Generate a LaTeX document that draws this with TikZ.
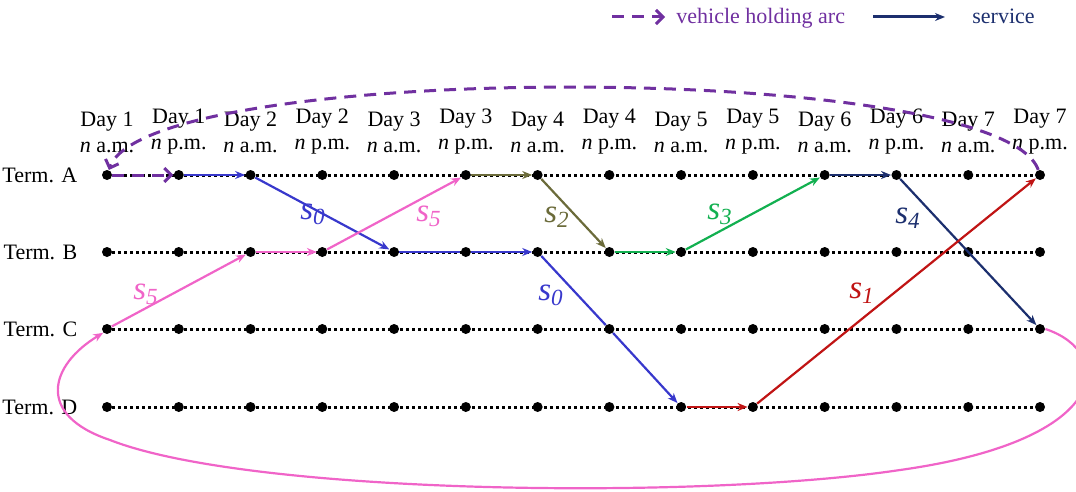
\documentclass[tikz,border=0pt]{standalone}
\usepackage{fontspec}
\setmainfont{Liberation Serif}
\usetikzlibrary{positioning,arrows.meta}
\definecolor{holdcol}{HTML}{7030A0}
\definecolor{blue0}{HTML}{3838CC}
\definecolor{pink5}{HTML}{F064C8}
\definecolor{olive2}{HTML}{6B6B3A}
\definecolor{green3}{HTML}{12B050}
\definecolor{navy4}{HTML}{1C2F6E}
\definecolor{red1}{HTML}{C01414}

\begin{document}
\begin{tikzpicture}[x=0.5pt,y=-0.5pt,>={Stealth[length=5pt,width=4pt]},
		dot/.style={circle,fill=black,inner sep=0pt,minimum size=5pt},
		gridline/.style={line width=1.5pt,dash pattern=on 1.5pt off 1.5pt},
		svc/.style={line width=1.1pt,->},
		hold/.style={holdcol,line width=1.5pt,dash pattern=on 6pt off 4pt,-{Straight Barb[length=3.5pt,width=7pt]}},
		daylabel/.style={align=center,font=\fontsize{11}{13}\selectfont,inner sep=0pt},
		termlabel/.style={font=\fontsize{11}{13}\selectfont,inner sep=0pt},
		svclabel/.style={font=\fontsize{16.5}{18}\selectfont\itshape,inner sep=0pt}]
		\useasboundingbox (0,0) rectangle (1076,492);
		\clip (0,0) rectangle (1076,492);
		\foreach \r/\y in {A/175,B/252,C/329,D/407}{
			\foreach \i in {0,...,13}
				\node[dot] (\r\i) at ({107+71.77*\i},\y) {};
			\draw[gridline] (\r0) -- (\r13);
			\node[termlabel,left=12pt of \r0] (term\r) {Term. \r};
		}
		\foreach \i in {0,...,13}{
			\pgfmathtruncatemacro{\daynum}{\i/2+1}
			\node[daylabel] (day\i) at ({107+71.77*\i},132) {Day \daynum\\\textit{n} \ifodd\i\relax p.m.\else a.m.\fi};
		}
		% legend
		\coordinate (lh0) at (612,17);
		\coordinate (lh1) at (665,17);
		\draw[hold] (lh0) -- (lh1);
		\node[termlabel,text=holdcol,anchor=base west] (lhold) at (676,24) {vehicle holding arc};
		\coordinate (ls0) at (873,17);
		\coordinate (ls1) at (945,17);
		\draw[svc,navy4,line width=1.5pt] (ls0) -- (ls1);
		\node[termlabel,text=navy4,anchor=base west] (lsvc) at (972,24) {service};
		% holding arcs
		\draw[hold] (A0) -- (A1);
		\draw[hold] (A13) .. controls (1000,60) and (150,60) .. (A0);
		\draw[pink5,line width=1.1pt,->] (C13.east) .. controls (1115,352) and (1115,440) .. (900,470)
			.. controls (700,500) and (250,495) .. (110,440)
			.. controls (35,415) and (50,365) .. (C0.south west);
		% services
		\draw[svc,blue0] (A1) -- (A2);
		\draw[svc,blue0] (A2) -- (B4);
		\draw[svc,blue0] (B4) -- (B5) -- (B6);
		\draw[svc,blue0] (B6) -- (C7) -- (D8);
		\draw[svc,pink5] (C0) -- (B2);
		\draw[svc,pink5] (B2) -- (B3);
		\draw[svc,pink5] (B3) -- (A5);
		\draw[svc,olive2] (A5) -- (A6);
		\draw[svc,olive2] (A6) -- (B7);
		\draw[svc,green3] (B7) -- (B8);
		\draw[svc,green3] (B8) -- (A10);
		\draw[svc,navy4] (A10) -- (A11);
		\draw[svc,navy4] (A11) -- (C13);
		\draw[svc,red1] (D8) -- (D9);
		\draw[svc,red1] (D9) -- (A13);
		\node[svclabel,text=blue0] (lab0a) at (313,214) {s\textsubscript{0}};
		\node[svclabel,text=blue0] (lab0b) at (551,295) {s\textsubscript{0}};
		\node[svclabel,text=pink5] (lab5a) at (429,216) {s\textsubscript{5}};
		\node[svclabel,text=pink5] (lab5b) at (146,294) {s\textsubscript{5}};
		\node[svclabel,text=olive2] (lab2) at (557,217) {s\textsubscript{2}};
		\node[svclabel,text=green3] (lab3) at (720,214) {s\textsubscript{3}};
		\node[svclabel,text=navy4] (lab4) at (908,218) {s\textsubscript{4}};
		\node[svclabel,text=red1] (lab1) at (862,293) {s\textsubscript{1}};
\end{tikzpicture}
\end{document}
